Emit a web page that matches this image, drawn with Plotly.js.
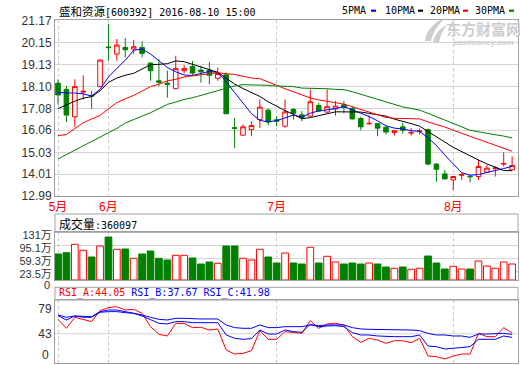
<!DOCTYPE html>
<html><head><meta charset="utf-8">
<script src="https://cdn.plot.ly/plotly-3.0.1.min.js"></script>
<style>html,body{margin:0;padding:0;background:#fff;}#chart{width:520px;height:365px;}</style>
</head><body><div id="chart"></div>
<script>
// ---------- DATA ----------
const dates = ['2016-05-24','2016-05-25','2016-05-26','2016-05-27','2016-05-30','2016-05-31',
'2016-06-01','2016-06-02','2016-06-03','2016-06-06','2016-06-07','2016-06-08','2016-06-13','2016-06-14','2016-06-15','2016-06-16','2016-06-17','2016-06-20','2016-06-21','2016-06-22','2016-06-23','2016-06-24','2016-06-27','2016-06-28','2016-06-29','2016-06-30',
'2016-07-01','2016-07-04','2016-07-05','2016-07-06','2016-07-07','2016-07-08','2016-07-11','2016-07-12','2016-07-13','2016-07-14','2016-07-15','2016-07-18','2016-07-19','2016-07-20','2016-07-21','2016-07-22','2016-07-25','2016-07-26','2016-07-27','2016-07-28','2016-07-29',
'2016-08-01','2016-08-02','2016-08-03','2016-08-04','2016-08-05','2016-08-08','2016-08-09','2016-08-10'];
const open  = [18.26,17.97,16.69,17.84,17.68,18.10,19.95,19.62,19.93,19.85,19.93,19.20,18.37,18.26,18.00,18.84,19.04,18.87,18.87,18.49,18.65,16.18,15.83,16.09,16.56,17.00,16.55,16.25,17.03,16.78,16.72,17.22,16.91,17.06,17.25,17.08,16.61,16.36,16.37,16.20,15.95,16.22,15.93,16.00,16.09,14.48,14.02,13.74,13.96,13.91,13.90,14.10,14.27,14.48,14.21];
const high  = [18.44,18.13,18.44,18.63,17.89,19.36,21.03,20.32,20.37,20.28,20.21,19.22,19.38,18.84,19.54,19.10,19.30,19.07,19.26,18.99,18.76,16.64,16.33,16.48,17.50,17.08,16.72,17.50,17.10,16.96,17.97,17.35,17.97,17.43,17.43,17.16,16.69,16.75,16.40,16.25,16.06,16.41,16.17,16.14,16.14,14.53,14.21,13.93,14.06,13.96,14.68,14.45,14.37,15.03,14.84];
const low   = [17.27,16.45,16.22,17.50,17.06,18.08,19.30,19.30,19.46,19.62,19.46,18.37,18.13,17.58,17.98,18.72,18.60,18.29,18.21,18.37,16.83,15.23,15.80,15.78,16.17,16.29,16.25,16.17,16.56,16.48,16.70,16.94,16.89,16.75,16.85,16.57,16.06,16.34,15.78,15.86,15.81,15.90,15.81,15.86,14.42,13.66,13.76,13.27,13.74,13.62,13.74,14.05,13.90,14.37,14.19];
const close = [17.71,16.77,18.10,17.88,17.66,19.34,19.92,20.04,19.82,19.96,19.65,18.84,18.30,18.20,18.94,18.94,18.73,18.79,18.63,18.71,16.83,16.15,16.22,16.28,17.14,16.45,16.48,16.92,16.85,16.66,17.39,16.96,17.16,17.19,17.13,16.59,16.22,16.38,16.16,15.98,16.04,16.06,15.95,16.02,14.48,14.24,13.79,13.90,13.99,13.89,14.37,14.29,14.30,14.51,14.42];
const ma5   = [17.82,17.82,17.80,17.76,17.66,17.97,18.55,18.95,19.33,19.80,19.85,19.62,19.31,18.99,18.79,18.64,18.62,18.72,18.81,18.76,18.34,17.82,17.31,16.84,16.52,16.45,16.51,16.65,16.77,16.67,16.86,16.96,17.00,17.07,17.17,17.01,16.86,16.70,16.50,16.27,16.16,16.12,16.04,16.01,15.71,15.35,14.90,14.49,14.08,13.96,13.99,14.09,14.17,14.27,14.38];
const ma10  = [17.07,17.25,17.42,17.56,17.63,17.90,18.30,18.50,18.63,18.72,18.91,19.12,19.14,19.17,19.30,19.26,19.14,19.02,18.90,18.77,18.49,18.22,18.01,17.82,17.64,17.39,17.17,16.98,16.80,16.60,16.65,16.74,16.83,16.92,16.92,16.93,16.91,16.85,16.78,16.72,16.58,16.49,16.37,16.25,15.99,15.75,15.51,15.26,15.05,14.84,14.67,14.49,14.33,14.18,14.17];
const ma20  = [15.81,15.86,16.14,16.41,16.59,16.75,17.06,17.35,17.53,17.69,17.89,18.10,18.21,18.37,18.44,18.55,18.60,18.66,18.71,18.75,18.70,18.67,18.58,18.50,18.47,18.33,18.16,18.00,17.85,17.69,17.57,17.48,17.42,17.37,17.28,17.16,17.04,16.92,16.79,16.66,16.62,16.62,16.60,16.59,16.45,16.34,16.21,16.06,15.92,15.78,15.63,15.49,15.35,15.22,15.08];
const ma30  = [14.72,14.92,15.13,15.33,15.53,15.74,15.94,16.15,16.40,16.55,16.72,16.88,17.07,17.27,17.38,17.50,17.58,17.69,17.82,17.94,18.05,18.13,18.19,18.19,18.18,18.16,18.13,18.11,18.10,18.03,18.02,18.03,18.00,17.97,17.96,17.86,17.74,17.62,17.50,17.37,17.25,17.15,17.08,17.00,16.85,16.70,16.53,16.37,16.22,16.06,15.98,15.92,15.85,15.79,15.70];
const volume = [71.4,75.0,98.0,81.6,63.2,93.4,118.1,84.3,85.1,59.6,71.4,79.6,59.6,54.9,67.8,67.8,60.4,43.9,49.4,45.9,93.4,93.4,59.6,54.9,84.3,63.2,46.7,74.1,46.7,43.9,89.8,46.7,65.1,49.4,43.9,46.7,43.9,46.7,43.9,35.7,32.1,35.7,29.4,32.1,65.9,46.7,30.2,37.6,30.2,30.2,52.2,38.4,32.1,49.4,43.9];
const lastVolume = 360097;
const rsiA = [64.2,51.0,67.2,64.2,60.8,77.0,81.4,82.8,77.9,78.9,73.0,53.4,42.2,39.7,58.3,58.3,52.0,52.5,48.5,50.0,19.1,13.2,14.2,18.1,47.5,34.8,34.8,46.1,45.1,43.6,62.3,51.0,57.4,58.3,55.9,38.7,30.4,36.3,33.8,28.9,32.8,32.8,29.9,36.3,10.3,9.3,5.9,10.3,13.2,13.2,43.6,38.7,38.7,52.0,44.05];
const rsiB = [69.6,63.2,69.1,67.2,67.2,74.5,75.5,75.5,74.0,73.0,69.1,63.2,58.3,57.4,60.8,60.8,59.3,59.3,59.3,59.3,41.2,36.3,34.8,35.8,48.5,42.6,42.6,48.5,46.1,45.1,56.9,53.4,54.4,54.9,53.4,44.6,41.2,41.2,39.7,38.7,38.7,38.7,38.7,41.2,25.0,24.0,20.6,21.6,22.5,24.0,34.8,34.8,34.8,39.7,37.67];
const rsiC = [70.6,67.2,69.1,68.1,68.1,75.5,77.9,77.9,75.5,74.0,70.6,67.2,64.2,63.2,65.7,65.7,64.7,64.7,64.7,64.7,55.9,52.0,51.0,51.0,55.9,52.0,52.0,53.4,53.4,53.4,55.9,54.9,55.9,55.9,55.9,52.0,50.0,49.5,49.5,49.5,49.5,48.5,48.5,47.5,43.6,41.2,41.2,39.7,39.7,37.7,42.6,42.6,42.6,43.6,41.98];
const priceTicks = [12.99,14.01,15.03,16.06,17.08,18.10,19.13,20.15,21.17];
const volTicks = [23.5,59.3,95.1,131];
const volTickText = ['23.5万','59.3万','95.1万','131万'];
const volZeroText = '0';
const rsiTicks = [43,79];
const rsiTickText = ['43','79'];
const rsiZeroText = '0';
const monthDates = ['2016-05-24','2016-06-01','2016-07-01','2016-08-01'];
const monthLabels = ['5月','6月','7月','8月'];
const maNames = ['5PMA','10PMA','20PMA','30PMA'];
const stockTitle = '盛和资源';
const stockInfo = '[600392] 2016-08-10 15:00';

// ---------- STYLE / LAYOUT ----------
const W = 520, H = 365, L = 55, R = 518;
const RED = '#ff0000', GREEN = '#008000', BLUE = '#0000ff', BLACK = '#000000';
const maColors = [BLUE, BLACK, RED, GREEN];
const px = v => (v - L) / (R - L);
const py = v => 1 - v / H;
const MONO = 'DejaVu Sans Mono, Liberation Mono, monospace';
const CJK = 'Noto Sans CJK SC';
const SANS = 'Liberation Sans, Arial, Noto Sans CJK SC';
const BORDER = '#a0a0a0', GRID = '#d4d4d4', WM = '#cdcdcd';

const up = close.map((c, i) => c >= open[i]);

const traces = [
  {type:'candlestick', x:dates, open:open, high:high, low:low, close:close, xaxis:'x', yaxis:'y',
   increasing:{line:{color:RED,width:1}, fillcolor:'#ffffff'},
   decreasing:{line:{color:GREEN,width:1}, fillcolor:GREEN},
   whiskerwidth:0, showlegend:false, hoverinfo:'skip'}
];
[ma5, ma10, ma20, ma30].forEach((m, k) => traces.push({type:'scatter', mode:'lines', x:dates, y:m,
  xaxis:'x', yaxis:'y', line:{color:maColors[k], width:1}, showlegend:false, hoverinfo:'skip'}));
traces.push({type:'bar', x:dates, y:volume, xaxis:'x', yaxis:'y2',
  marker:{color:up.map(u => u ? '#ffffff' : GREEN), line:{color:up.map(u => u ? RED : GREEN), width:1}},
  showlegend:false, hoverinfo:'skip'});
[[rsiA, RED], [rsiB, BLUE], [rsiC, BLUE]].forEach(([r, c]) => traces.push({type:'scatter', mode:'lines',
  x:dates, y:r, xaxis:'x', yaxis:'y3', line:{color:c, width:1}, showlegend:false, hoverinfo:'skip'}));

const P = (x, y) => px(x).toFixed(5) + ',' + py(y).toFixed(5);
const shapes = [
  {type:'rect', xref:'paper', yref:'paper', x0:0, x1:1, y0:py(232.3), y1:py(214), line:{color:BORDER, width:1}},
  {type:'rect', xref:'paper', yref:'paper', x0:0, x1:1, y0:py(300), y1:py(287.3), line:{color:BORDER, width:1}},
  {type:'line', xref:'paper', yref:'y3', x0:0, x1:1, y0:43, y1:43, line:{color:GRID, width:1}, layer:'below'},
  {type:'path', xref:'paper', yref:'paper', fillcolor:WM, line:{width:0}, layer:'below',
   path:'M'+P(425,41)+' C'+P(426,31)+' '+P(434,22)+' '+P(445,18)+' C'+P(438,25)+' '+P(433,32)+' '+P(431,41)+' Z'},
  {type:'path', xref:'paper', yref:'paper', fillcolor:WM, line:{width:0}, layer:'below',
   path:'M'+P(433,42)+' C'+P(435,34)+' '+P(440,28)+' '+P(447,25)+' C'+P(443,30)+' '+P(440,36)+' '+P(439,42)+' Z'}
];
const swX = [371, 418, 463, 509];
swX.forEach((x, k) => shapes.push({type:'rect', xref:'paper', yref:'paper', x0:px(x), x1:px(x+5),
  y0:py(11.8), y1:py(9.6), fillcolor:maColors[k], line:{width:0}}));

const annotations = [
  {xref:'paper', yref:'paper', x:px(57), y:py(10.5), xanchor:'left', yanchor:'middle', showarrow:false,
   text:'<span style="font-family:'+CJK+';font-size:11.5px">'+stockTitle+'</span>'+stockInfo,
   font:{family:MONO, size:10, color:'#000'}},
  {xref:'paper', yref:'paper', x:px(57), y:py(223.3), xanchor:'left', yanchor:'middle', showarrow:false,
   text:'<span style="font-family:'+CJK+';font-size:12px">成交量</span>:'+lastVolume,
   font:{family:MONO, size:10, color:'#000'}},
  {xref:'paper', yref:'paper', x:px(57), y:py(292.8), xanchor:'left', yanchor:'middle', showarrow:false,
   text:'<span style="color:'+RED+'">RSI_A:'+rsiA[rsiA.length-1].toFixed(2)+'</span> '+
        '<span style="color:'+BLUE+'">RSI_B:'+rsiB[rsiB.length-1].toFixed(2)+'</span> '+
        '<span style="color:'+BLUE+'">RSI_C:'+rsiC[rsiC.length-1].toFixed(2)+'</span>',
   font:{family:MONO, size:10, color:'#000'}},
  {xref:'paper', yref:'paper', x:px(483), y:py(33), xanchor:'center', yanchor:'middle', showarrow:false,
   text:'<span style="font-family:'+CJK+';font-size:15px;font-weight:bold">东方财富网</span><br><b><i>eastmoney.com</i></b>',
   font:{family:SANS, size:8, color:WM}},
  {xref:'paper', yref:'paper', x:px(50.5), y:py(285), xanchor:'right', yanchor:'middle', showarrow:false,
   borderpad:0, text:volZeroText, font:{family:SANS, size:11, color:'#333'}},
  {xref:'paper', yref:'paper', x:px(50.5), y:py(355), xanchor:'right', yanchor:'middle', showarrow:false,
   text:rsiZeroText, font:{family:SANS, size:12, color:'#333'}}
];
const lgX = [340, 383, 428, 473];
maNames.forEach((n, k) => annotations.push({xref:'paper', yref:'paper', x:px(lgX[k]), y:py(10.5),
  xanchor:'left', yanchor:'middle', showarrow:false, text:n, font:{family:MONO, size:10, color:'#000'}}));

const layout = {
  width:W, height:H, margin:{l:L, r:W-R, t:0, b:0}, paper_bgcolor:'#fff', plot_bgcolor:'#fff',
  showlegend:false, hovermode:false, bargap:0.2, boxgap:0.22,
  xaxis:{type:'category', anchor:'y', range:[-0.357, 54.70], tickvals:monthDates, ticktext:monthLabels,
    tickfont:{family:SANS, size:12, color:RED}, ticks:'', showgrid:true, gridcolor:'#c8c8c8', griddash:'3px,3px',
    showline:true, linecolor:BORDER, linewidth:1, mirror:'all', zeroline:false, rangeslider:{visible:false}, fixedrange:true},
  yaxis:{domain:[py(196), py(20)], range:[12.99, 21.21], tickvals:priceTicks, ticktext:priceTicks.map(v => v.toFixed(2)),
    tickfont:{family:SANS, size:12, color:'#333'}, ticks:'', showgrid:true, gridcolor:GRID,
    showline:true, linecolor:BORDER, linewidth:1, mirror:true, zeroline:false, fixedrange:true},
  yaxis2:{domain:[py(280), py(232.3)], range:[0, 131], tickvals:volTicks, ticktext:volTickText,
    tickfont:{family:SANS, size:11, color:'#333'}, ticks:'', showgrid:true, gridcolor:GRID, ticklabelshift:3,
    showline:true, linecolor:BORDER, linewidth:1, mirror:true, zeroline:false, fixedrange:true},
  yaxis3:{domain:[py(363), py(300)], range:[0, 92.6], tickvals:rsiTicks, ticktext:rsiTickText,
    tickfont:{family:SANS, size:12, color:'#333'}, ticks:'', showgrid:false,
    showline:true, linecolor:BORDER, linewidth:1, mirror:true, zeroline:false, fixedrange:true},
  shapes:shapes, annotations:annotations
};
Plotly.newPlot('chart', traces, layout, {staticPlot:true, displayModeBar:false});
</script>
</body></html>
